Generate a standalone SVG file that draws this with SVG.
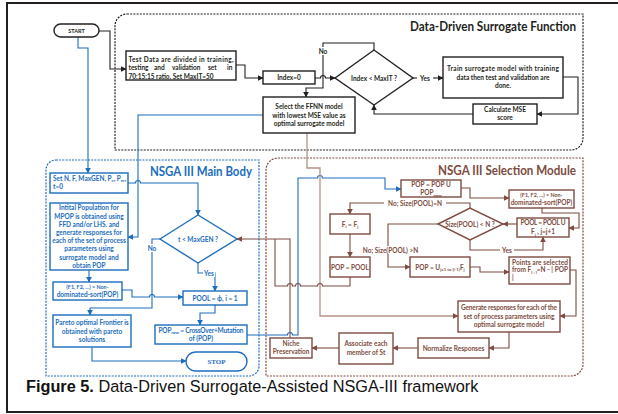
<svg xmlns="http://www.w3.org/2000/svg" width="618" height="414" viewBox="0 0 618 414">
<style>
  .t{font-family:Lato,"Liberation Sans",sans-serif;font-weight:bold;font-size:6.5px;text-anchor:middle}
  .s{text-anchor:start}
  .e{text-anchor:end}
  .k{fill:#231f20}
  .b{fill:#1c6dbd}
  .r{fill:#7d4b40}
  .nk{fill:#fff;stroke:#231f20;stroke-width:1.4}
  .nb{fill:#fff;stroke:#1c6dbd;stroke-width:1.4}
  .nr{fill:#fff;stroke:#7d4b40;stroke-width:1.4}
  .ck{fill:none;stroke:#231f20;stroke-width:1.1;marker-end:url(#ak)}
  .cb{fill:none;stroke:#1c6dbd;stroke-width:1.1;marker-end:url(#ab)}
  .cr{fill:none;stroke:#7d4b40;stroke-width:1.1;marker-end:url(#ar)}
  .cl{fill:none;stroke:#b39289;stroke-width:1.3;marker-end:url(#ar)}
  .lb{fill:#fff}
  .ttl{font-family:Lato,"Liberation Sans",sans-serif;font-weight:bold;font-size:12.5px;text-anchor:end}
  .sub{font-size:4.3px}
  .panel{fill:none;stroke-width:1.2;stroke-dasharray:2 1.2}
</style>
<defs>
  <marker id="ak" viewBox="0 0 10 10" refX="9" refY="5" markerWidth="6" markerHeight="6" orient="auto" markerUnits="userSpaceOnUse"><path d="M0,0L10,5L0,10z" fill="#231f20"/></marker>
  <marker id="ab" viewBox="0 0 10 10" refX="9" refY="5" markerWidth="6" markerHeight="6" orient="auto" markerUnits="userSpaceOnUse"><path d="M0,0L10,5L0,10z" fill="#1c6dbd"/></marker>
  <marker id="ar" viewBox="0 0 10 10" refX="9" refY="5" markerWidth="6" markerHeight="6" orient="auto" markerUnits="userSpaceOnUse"><path d="M0,0L10,5L0,10z" fill="#7d4b40"/></marker>
</defs>

<rect x="0" y="0" width="618" height="414" fill="#fff"/>
<!-- outer frame -->
<rect x="7" y="3" width="640" height="409" fill="none" stroke="#231f20" stroke-width="2"/>

<!-- panels -->
<g id="surrogate-panel">
  <path class="panel" stroke="#231f20" d="M127,14H583V138A12,12 0 0 1 571,150H115V26A12,12 0 0 1 127,14Z"/>
  <text class="ttl k" x="576" y="31" textLength="166" lengthAdjust="spacingAndGlyphs">Data-Driven Surrogate Function</text>
</g>
<g id="main-body-panel">
  <path class="panel" stroke="#1c6dbd" d="M56,160H259V366A10,10 0 0 1 249,376H46V170A10,10 0 0 1 56,160Z"/>
  <text class="ttl b" x="252" y="176" textLength="102" lengthAdjust="spacingAndGlyphs">NSGA III Main Body</text>
</g>
<g id="selection-panel">
  <path class="panel" stroke="#7d4b40" d="M278,158H583V364A12,12 0 0 1 571,376H266V170A12,12 0 0 1 278,158Z"/>
  <text class="ttl r" x="576" y="175" textLength="138" lengthAdjust="spacingAndGlyphs">NSGA III Selection Module</text>
</g>

<g id="connectors">
  <!-- surrogate training loop -->
  <path class="ck" d="M99,31H110V69H126"/>
  <path class="ck" d="M236,65H245V78H263"/>
  <path class="ck" d="M315,78H320.5A2.5,2.5 0 0 1 325.5,78H335"/>
  <path class="ck" d="M374,50V43H323V88H306V97"/>
  <rect class="lb" x="317" y="47" width="12" height="8"/>
  <text class="t k" x="323" y="53.5">No</text>
  <path class="ck" d="M413,78H443"/>
  <rect class="lb" x="417" y="74" width="16" height="8"/>
  <text class="t k" x="425" y="80.5">Yes</text>
  <path class="ck" d="M563,77H578V114H537"/>
  <path class="ck" d="M473,114H374V105"/>

  <!-- main body -->
  <path class="cb" d="M78,37V48H88V173"/>
  <path class="cb" d="M263,115H138V237H128"/>
  <path class="cb" d="M128,183H135.5A2.5,2.5 0 0 1 140.5,183H198V215"/>
  <path class="cb" d="M89,270V282"/>
  <path class="cb" d="M122,290H132V297H149.5A2.5,2.5 0 0 1 154.5,297H183"/>
  <path class="cb" d="M160,239H152V308H90V315"/>
  <rect class="lb" x="146" y="244" width="12" height="8"/>
  <text class="t b" x="152" y="250.5">No</text>
  <path class="cb" d="M198,263V273H215V291"/>
  <rect class="lb" x="203" y="269" width="12" height="8"/>
  <text class="t b" x="209" y="275.5">Yes</text>
  <path class="cb" d="M215,305V313H200V325"/>
  <path class="cb" d="M92,347V361H186"/>
  <path class="cb" d="M247,335H287.5A2.5,2.5 0 0 1 292.5,335H298V178H317.5A2.5,2.5 0 0 1 322.5,178H385V189H401"/>

  <!-- selection module -->
  <path class="cl" d="M307,133V168H320V316H458"/>
  <path class="cr" d="M461,188H470V198H509"/>
  <path class="cr" d="M542,208V213H579V228H569"/>
  <path class="cr" d="M517,224H503"/>
  <path class="cr" d="M470,240V250H543V237"/>
  <rect class="lb" x="500" y="246" width="14" height="8"/>
  <text class="t r" x="507" y="252.5">Yes</text>
  <path class="cr" d="M470,208V203H350V214"/>
  <rect class="lb" x="384" y="199" width="62" height="8"/>
  <text class="t r" x="415" y="205.5">No; Size(POOL)=N</text>
  <path class="cr" d="M350,234V257"/>
  <path class="cr" d="M438,224H388V267H410"/>
  <rect class="lb" x="364" y="246" width="53" height="8"/>
  <text class="t r" x="390.5" y="252.5">No; Size(POOL) &gt;N</text>
  <path class="cr" d="M470,267H480V272H509"/>
  <path class="cr" d="M570,270H576V316H560"/>
  <path class="cr" d="M509,332V348H489"/>
  <path class="cr" d="M418,348H393"/>
  <path class="cr" d="M339,348H312"/>
  <path class="cr" d="M290,338V239H237"/>
  <path fill="none" stroke="#7d4b40" stroke-width="1.1" d="M350,277V286H322.5A2.5,2.5 0 0 0 317.5,286H300.5A2.5,2.5 0 0 0 295.5,286H292.5A2.5,2.5 0 0 0 287.5,286H275V239"/>
</g>

<!-- surrogate nodes -->
<g id="start">
  <rect class="nk" x="54" y="24" width="45" height="13" rx="6.5"/>
  <text class="t k" x="76.5" y="32.5" style="font-size:5.5px">START</text>
</g>
<g id="split-data">
  <rect class="nk" x="126" y="51" width="110" height="29"/>
  <text class="t k s" x="128.5" y="61.5" textLength="105">Test Data are divided in training,</text>
  <text class="t k s" y="70"><tspan x="128.5">testing</tspan><tspan x="154">and</tspan><tspan x="172">validation</tspan><tspan x="208">set</tspan><tspan x="227">in</tspan></text>
  <text class="t k s" x="128.5" y="78.5">70:15:15 ratio. Set MaxIT=50</text>
</g>
<g id="index-init">
  <rect class="nk" x="263" y="71" width="52" height="13"/>
  <text class="t k" x="289" y="80">Index=0</text>
</g>
<g id="index-check">
  <polygon class="nk" points="335,78 374,50 413,78 374,105"/>
  <text class="t k" x="374" y="80.5">Index &lt; MaxIT ?</text>
</g>
<g id="train-model">
  <rect class="nk" x="443" y="57" width="120" height="41"/>
  <text class="t k" x="503" y="71" textLength="112">Train surrogate model with training</text>
  <text class="t k" x="503" y="79.5">data then test and validation are</text>
  <text class="t k" x="503" y="88">done.</text>
</g>
<g id="calc-mse">
  <rect class="nk" x="473" y="104" width="64" height="20"/>
  <text class="t k" x="505" y="111.5">Calculate MSE</text>
  <text class="t k" x="505" y="120">score</text>
</g>
<g id="select-ffnn">
  <rect class="nk" x="263" y="97" width="92" height="36"/>
  <text class="t k" x="309" y="109">Select the FFNN model</text>
  <text class="t k" x="309" y="117.5">with lowest MSE value as</text>
  <text class="t k" x="309" y="126">optimal surrogate model</text>
</g>

<!-- NSGA III main body nodes -->
<g id="set-params">
  <rect class="nb" x="50" y="173" width="78" height="20"/>
  <text class="t b s" x="53" y="180.5">Set N, F, MaxGEN, P<tspan class="sub" dy="1.5">c</tspan><tspan dy="-1.5">, P</tspan><tspan class="sub" dy="1.5">m</tspan><tspan dy="-1.5">,</tspan></text>
  <text class="t b s" x="53" y="189">t=0</text>
</g>
<g id="initial-population">
  <rect class="nb" x="50" y="203" width="78" height="67"/>
  <text class="t b" x="89" y="210.3">Intital Population for</text>
  <text class="t b" x="89" y="218.5">MPOP is obtained using</text>
  <text class="t b" x="89" y="226.7">FFD and/or LHS. and</text>
  <text class="t b" x="89" y="234.9">generate responses for</text>
  <text class="t b" x="89" y="243.1">each of the set of process</text>
  <text class="t b" x="89" y="251.3">parameters using</text>
  <text class="t b" x="89" y="259.5">surrogate model and</text>
  <text class="t b" x="89" y="267.7">obtain POP</text>
</g>
<g id="nondominated-sort-main">
  <rect class="nb" x="53" y="282" width="69" height="18"/>
  <text class="t b" x="87.5" y="288.5" style="font-size:5.4px">(F1, F2, ...) = Non-</text>
  <text class="t b" x="87.5" y="296.5">dominated-sort(POP)</text>
</g>
<g id="pareto-front">
  <rect class="nb" x="53" y="315" width="78" height="32"/>
  <text class="t b" x="92" y="325">Pareto optimal Frontier is</text>
  <text class="t b" x="92" y="333.5">obtained with pareto</text>
  <text class="t b" x="92" y="342">solutions</text>
</g>
<g id="stop">
  <rect class="nb" x="186" y="352" width="61" height="19" rx="9.5"/>
  <text class="b" x="216.5" y="364" style="font-family:'Liberation Serif',serif;font-weight:bold;font-size:7px;text-anchor:middle">STOP</text>
</g>
<g id="generation-check">
  <polygon class="nb" points="160,239 198,215 237,239 198,263"/>
  <text class="t b" x="198" y="241.5">t &lt; MaxGEN ?</text>
</g>
<g id="pool-init">
  <rect class="nb" x="183" y="291" width="64" height="14"/>
  <text class="t b" x="215" y="300.5">POOL = ϕ, i = 1</text>
</g>
<g id="offspring">
  <rect class="nb" x="155" y="325" width="92" height="19"/>
  <text class="t b" x="201" y="332.5" textLength="85">POP<tspan class="sub" dy="1.5">new</tspan><tspan dy="-1.5"> = CrossOver+Mutation</tspan></text>
  <text class="t b" x="201" y="340.5">of (POP)</text>
</g>

<!-- NSGA III selection module nodes -->
<g id="merge-pop">
  <rect class="nr" x="401" y="180" width="60" height="17"/>
  <text class="t r" x="431" y="187">POP = POP U</text>
  <text class="t r" x="431" y="195">POP<tspan class="sub" dy="1.5">new</tspan></text>
</g>
<g id="nondominated-sort-sel">
  <rect class="nr" x="509" y="190" width="65" height="18"/>
  <text class="t r" x="541.5" y="196.5" style="font-size:5.4px">(F1, F2, ...) = Non-</text>
  <text class="t r" x="541.5" y="204.5">dominated-sort(POP)</text>
</g>
<g id="pool-add">
  <rect class="nr" x="517" y="218" width="52" height="19"/>
  <text class="t r" x="543" y="225" textLength="45">POOL = POOL  U</text>
  <text class="t r" x="543" y="234">F<tspan class="sub" dy="1.5">j</tspan><tspan dy="-1.5"> , j=j+1</tspan></text>
</g>
<g id="pool-size-check">
  <polygon class="nr" points="438,224 470,208 503,224 470,240"/>
  <text class="t r" x="470" y="226.5">Size(POOL) &lt; N ?</text>
</g>
<g id="front-assign">
  <rect class="nr" x="330" y="214" width="40" height="20"/>
  <text class="t r" x="350" y="226.5">F<tspan class="sub" dy="1.5">i</tspan><tspan dy="-1.5"> = F</tspan><tspan class="sub" dy="1.5">j</tspan></text>
</g>
<g id="pop-pool">
  <rect class="nr" x="330" y="257" width="40" height="20"/>
  <text class="t r" x="350" y="269.5">POP = POOL</text>
</g>
<g id="pop-union">
  <rect class="nr" x="410" y="257" width="60" height="20"/>
  <text class="t r" x="440" y="269.5">POP = U<tspan class="sub" dy="1.5">j=1 to (l-1)</tspan><tspan dy="-1.5">F</tspan><tspan class="sub" dy="1.5">j</tspan></text>
</g>
<g id="select-points">
  <rect class="nr" x="509" y="257" width="61" height="27"/>
  <text class="t r s" x="512" y="264.5" textLength="56">Points are selected</text>
  <text class="t r s" x="512" y="272" textLength="56">from F<tspan class="sub" dy="1.5">l : l</tspan><tspan dy="-1.5">=N - | POP</tspan></text>
  <text class="t r s" x="512" y="280">|</text>
</g>
<g id="generate-responses">
  <rect class="nr" x="458" y="301" width="102" height="31"/>
  <text class="t r" x="509" y="310" textLength="96">Generate responses for each of the</text>
  <text class="t r" x="509" y="318.5">set of process parameters using</text>
  <text class="t r" x="509" y="327">optimal surrogate model</text>
</g>
<g id="normalize">
  <rect class="nr" x="418" y="338" width="71" height="20"/>
  <text class="t r" x="453.5" y="350.5">Normalize Responses</text>
</g>
<g id="associate">
  <rect class="nr" x="339" y="333" width="54" height="31"/>
  <text class="t r" x="366" y="346">Associate each</text>
  <text class="t r" x="366" y="354.5">member of St</text>
</g>
<g id="niche">
  <rect class="nr" x="270" y="338" width="42" height="20"/>
  <text class="t r" x="291" y="345.5">Niche</text>
  <text class="t r" x="291" y="354">Preservation</text>
</g>

<text x="26" y="392" style="font-family:'Liberation Sans',Arial,sans-serif;font-size:16.3px;fill:#111"><tspan font-weight="bold">Figure 5.</tspan> Data-Driven Surrogate-Assisted NSGA-III framework</text>
</svg>
